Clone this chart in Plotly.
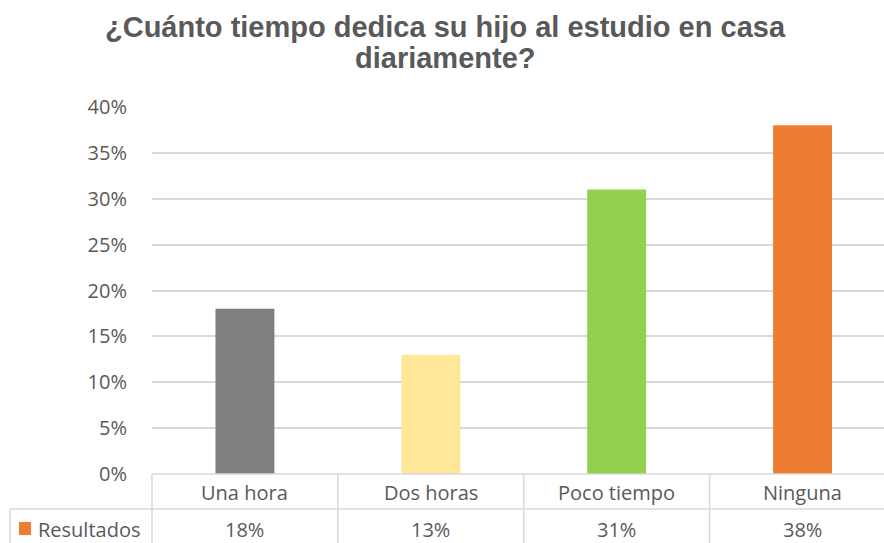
import plotly.graph_objects as go

categories = ["Una hora", "Dos horas", "Poco tiempo", "Ninguna"]
values = [0.18, 0.13, 0.31, 0.38]
value_labels = ["18%", "13%", "31%", "38%"]
colors = ["#7f7f7f", "#ffe699", "#92d050", "#ed7d31"]
series_name = "Resultados"
title_lines = ["¿Cuánto tiempo dedica su hijo al estudio en casa", "diariamente?"]

W, H = 884, 543
L, R, T, B = 152, 0, 107, 69
ph = H - T - B
pw = W - L - R

def py(pix):
    return (H - B - pix) / ph

def px(pix):
    return (pix - L) / pw

fig = go.Figure()
fig.add_trace(go.Bar(x=list(range(len(categories))), y=values, marker_color=colors,
                     marker_line_width=0, width=0.317, hoverinfo="skip"))

grid = "#d9d9d9"
shapes = []
shapes.append(dict(type="line", xref="paper", yref="paper", x0=0, x1=1, y0=0, y1=0,
                   line=dict(color=grid, width=1.5)))
shapes.append(dict(type="line", xref="paper", yref="paper", x0=px(10), x1=1, y0=py(509), y1=py(509),
                   line=dict(color=grid, width=1.5)))
shapes.append(dict(type="line", xref="paper", yref="paper", x0=px(10), x1=px(10), y0=py(509), y1=py(545),
                   line=dict(color=grid, width=1.5)))
shapes.append(dict(type="line", xref="paper", yref="paper", x0=0, x1=0, y0=0, y1=py(545),
                   line=dict(color=grid, width=1.5)))
for b in [0.5, 1.5, 2.5]:
    shapes.append(dict(type="line", xref="x", yref="paper", x0=b, x1=b, y0=0, y1=py(545),
                       line=dict(color=grid, width=1.5)))
shapes.append(dict(type="rect", xref="paper", yref="paper", x0=px(19), x1=px(31), y0=py(535), y1=py(522),
                   fillcolor="#ed7d31", line=dict(width=0)))

annotations = []
tf = dict(family="Open Sans, Noto Sans, sans-serif", size=20, color="#595959")
for i, c in enumerate(categories):
    annotations.append(dict(x=i, y=py(492), xref="x", yref="paper", text=c, showarrow=False,
                            font=tf, xanchor="center", yanchor="middle"))
    annotations.append(dict(x=i, y=py(529), xref="x", yref="paper", text=value_labels[i], showarrow=False,
                            font=tf, xanchor="center", yanchor="middle"))
annotations.append(dict(x=px(36), y=py(529), xref="paper", yref="paper", text=series_name, showarrow=False,
                        font=tf, xanchor="left", yanchor="middle"))

titlefont = dict(family="Liberation Sans, Arial, sans-serif", size=29, color="#595959", weight="bold")
for line, ypix in zip(title_lines, [27, 58]):
    annotations.append(dict(x=px(445), y=py(ypix), xref="paper", yref="paper", text=line, showarrow=False,
                            font=titlefont, xanchor="center", yanchor="middle"))

fig.update_layout(
    width=W, height=H,
    margin=dict(l=L, r=R, t=T, b=B, pad=0),
    paper_bgcolor="white", plot_bgcolor="white",
    showlegend=False,
    xaxis=dict(range=[-0.5, (W - 151.5) / 186 - 0.5], showticklabels=False, showgrid=False,
               zeroline=False, showline=False, ticks="", fixedrange=True),
    yaxis=dict(range=[0, 0.4], dtick=0.05, tickformat=".0%", showgrid=True, gridcolor=grid, gridwidth=1.5,
               zeroline=False, showline=False, ticks="", ticklabelstandoff=24,
               tickfont=tf, fixedrange=True),
    shapes=shapes, annotations=annotations,
)

fig.write_html("out.html", config={"displayModeBar": False},
               post_script="document.body.style.margin='0';document.body.style.overflow='hidden';")
